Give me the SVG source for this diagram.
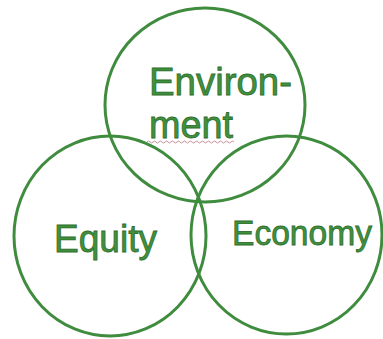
<svg xmlns="http://www.w3.org/2000/svg" width="383" height="339" viewBox="0 0 383 339">
  <style>
    .ring { fill: none; stroke: #3f8c3f; stroke-width: 3; }
    .lbl { font-family: "Liberation Sans", "DejaVu Sans", sans-serif; font-size: 38px; fill: #3f913c; stroke: #2f6e2f; stroke-width: 0.8; }
  </style>
  <rect width="383" height="339" fill="#ffffff"/>
  <g id="connectors"/>
  <g id="node-environment">
    <ellipse class="ring" cx="205" cy="105" rx="100" ry="97"/>
    <text class="lbl" x="149" y="95" textLength="143" lengthAdjust="spacingAndGlyphs">Environ-</text>
    <text class="lbl" x="149" y="138" textLength="84" lengthAdjust="spacingAndGlyphs">ment</text>
    <path d="M147,142 q1.5,-2 3,0 t3,0 t3,0 t3,0 t3,0 t3,0 t3,0 t3,0 t3,0 t3,0 t3,0 t3,0 t3,0 t3,0 t3,0 t3,0 t3,0 t3,0 t3,0 t3,0 t3,0 t3,0 t3,0 t3,0 t3,0 t3,0 t3,0 t3,0 t3,0" fill="none" stroke="#c9909a" stroke-width="1"/>
  </g>
  <g id="node-equity">
    <ellipse class="ring" cx="110" cy="236" rx="96" ry="100"/>
    <text class="lbl" x="54" y="252" textLength="103" lengthAdjust="spacingAndGlyphs">Equity</text>
  </g>
  <g id="node-economy">
    <ellipse class="ring" cx="286.5" cy="235" rx="95.5" ry="99"/>
    <text class="lbl" x="232" y="245" style="font-size:35px" textLength="140" lengthAdjust="spacingAndGlyphs">Economy</text>
  </g>
</svg>
